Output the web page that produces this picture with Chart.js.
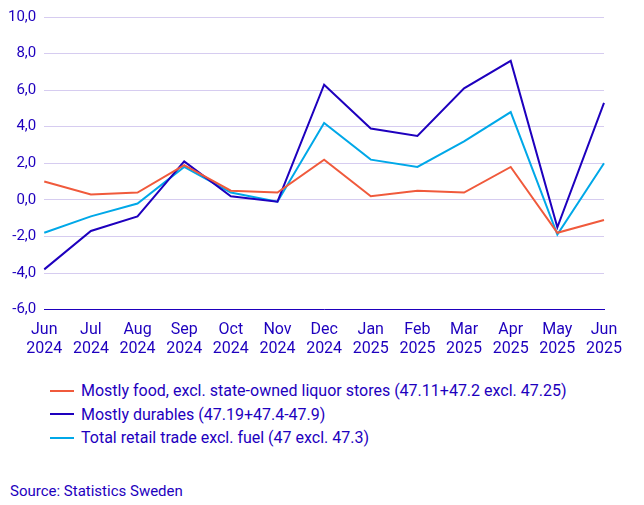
<!DOCTYPE html>
<html>
<head>
<meta charset="utf-8">
<script src="https://cdn.jsdelivr.net/npm/chart.js@4"></script>
<style>
  body { margin: 0; font-family: Roboto, Arial, sans-serif; background: #fff; }
  #wrap { position: relative; width: 644px; height: 362px; }
  #legend { margin: 17px 0 0 50px; font-size: 16px; color: #1e00be; }
  .item { display: flex; align-items: center; height: 23.5px; }
  .sw { width: 24px; height: 2px; margin-right: 7px; }
  #source { position: absolute; left: 10px; top: 482px; font-size: 15px; color: #1e00be; }
</style>
</head>
<body>
<div id="wrap"><canvas id="c"></canvas></div>
<div id="legend"></div>
<div id="source">Source: Statistics Sweden</div>
<script>
const months = [['Jun','2024'],['Jul','2024'],['Aug','2024'],['Sep','2024'],['Oct','2024'],['Nov','2024'],['Dec','2024'],['Jan','2025'],['Feb','2025'],['Mar','2025'],['Apr','2025'],['May','2025'],['Jun','2025']];
const foodValues = [1.0, 0.3, 0.4, 1.9, 0.5, 0.4, 2.2, 0.2, 0.5, 0.4, 1.8, -1.8, -1.1];
const durableValues = [-3.8, -1.7, -0.9, 2.1, 0.2, -0.1, 6.3, 3.9, 3.5, 6.1, 7.6, -1.5, 5.3];
const totalValues = [-1.8, -0.9, -0.2, 1.8, 0.4, -0.1, 4.2, 2.2, 1.8, 3.2, 4.8, -1.9, 2.0];

const series = [
  { label: 'Mostly food, excl. state-owned liquor stores (47.11+47.2 excl. 47.25)', data: foodValues, color: '#f05a3c' },
  { label: 'Mostly durables (47.19+47.4-47.9)', data: durableValues, color: '#1e00be' },
  { label: 'Total retail trade excl. fuel (47 excl. 47.3)', data: totalValues, color: '#00a8e8' }
];

const legend = document.getElementById('legend');
series.forEach(s => {
  legend.innerHTML += '<div class="item"><span class="sw" style="background:' + s.color + '"></span>' + s.label + '</div>';
});

new Chart(document.getElementById('c'), {
  type: 'line',
  data: {
    labels: months,
    datasets: series.map(s => ({
      label: s.label, data: s.data, borderColor: s.color, borderWidth: 2,
      pointRadius: 0, tension: 0, fill: false
    }))
  },
  options: {
    responsive: true, maintainAspectRatio: false, animation: false,
    layout: { padding: { left: 0, right: 40, top: 2 } },
    plugins: { legend: { display: false }, tooltip: { enabled: false } },
    scales: {
      x: {
        offset: false,
        grid: { display: false },
        border: { color: '#1e00be' },
        ticks: { color: '#1e00be', font: { size: 16, family: 'Roboto' }, maxRotation: 0, autoSkip: false, padding: 3 }
      },
      y: {
        min: -6, max: 10,
        grid: { color: '#d6ccf0', drawTicks: false },
        border: { display: false },
        ticks: {
          stepSize: 2, color: '#1e00be', font: { size: 15, family: 'Roboto' }, padding: 8,
          callback: v => v.toFixed(1).replace('.', ',')
        }
      }
    }
  }
});
</script>
</body>
</html>
